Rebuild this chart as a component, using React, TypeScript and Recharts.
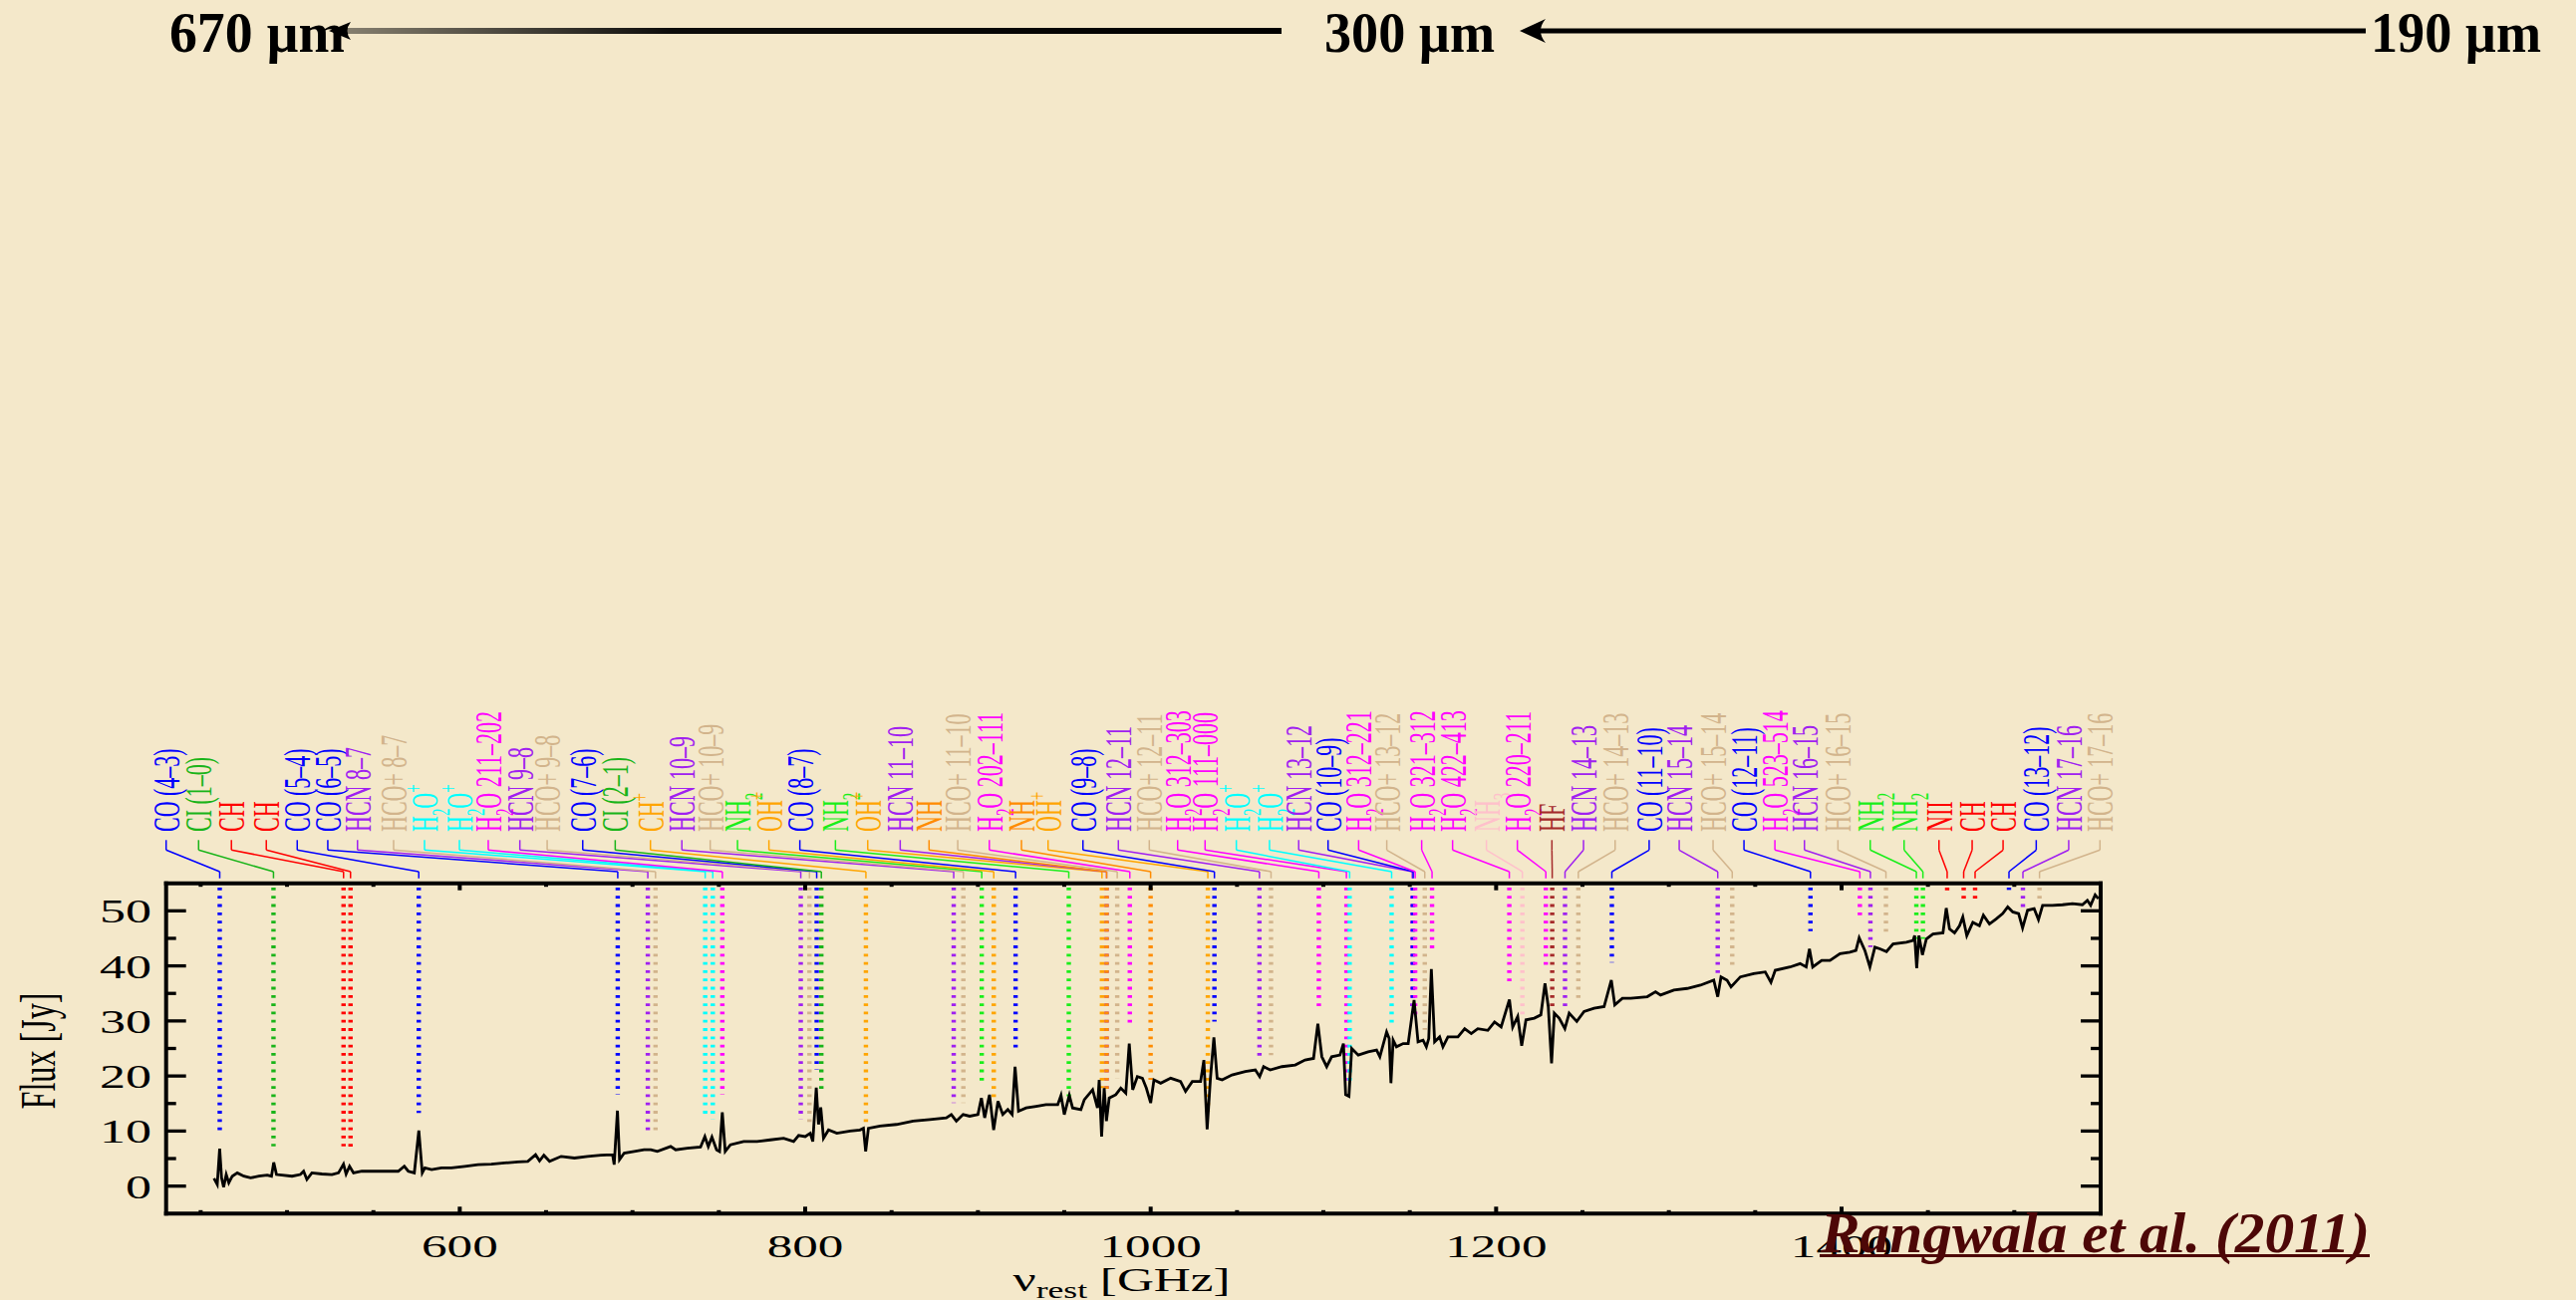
import React from 'react';
import { ComposedChart, Line, XAxis, YAxis, ReferenceLine, ReferenceDot } from 'recharts';

const W = 2585;
const H = 1305;
const BG = '#f4e8ca';
const SERIF = '"Liberation Serif", "Times New Roman", serif';

// plot frame in page pixels
const PLOT = { left: 166.7, top: 886.7, right: 2108, bottom: 1218.3 };
const PLOT_W = PLOT.right - PLOT.left;
const PLOT_H = PLOT.bottom - PLOT.top;

const X_DOMAIN: [number, number] = [430, 1550];
const Y_DOMAIN: [number, number] = [-5, 55];
const X_TICKS = [450, 500, 550, 600, 650, 700, 750, 800, 850, 900, 950, 1000, 1050, 1100, 1150, 1200, 1250, 1300, 1350, 1400, 1450, 1500];
const X_MAJOR = [600, 800, 1000, 1200, 1400];
const Y_TICKS = [0, 5, 10, 15, 20, 25, 30, 35, 40, 45, 50];
const Y_MAJOR = [0, 10, 20, 30, 40, 50];

// rest frequency (GHz) and flux density (Jy) of the spectrum
const FREQ_GHZ = [
  457.7, 459.6, 461.0, 462.1, 463.3, 464.8, 466.3, 468.3, 471.2, 475.0, 478.9, 483.7, 488.5, 491.0, 492.3, 493.9,
  497.1, 502.9, 507.7, 509.6, 511.5, 514.4, 520.2, 526.0, 529.8, 532.7, 534.2, 536.2, 538.5, 543.3, 551.0, 558.7,
  564.4, 567.9, 570.2, 573.7, 576.3, 578.3, 579.8, 583.7, 589.4, 595.2, 602.9, 610.6, 618.3, 626.0, 633.7, 639.4,
  643.9, 646.2, 648.7, 652.0, 658.7, 666.4, 674.0, 681.7, 688.5, 689.4, 691.3, 692.5, 695.2, 701.0, 706.7, 710.6,
  714.4, 722.1, 725.0, 731.7, 739.4, 741.9, 743.9, 746.0, 748.7, 750.4, 752.0, 753.7, 756.7, 764.4, 772.1, 779.8,
  787.5, 793.3, 796.2, 800.0, 802.9, 804.4, 806.4, 807.7, 809.0, 810.6, 813.5, 818.3, 826.0, 831.7, 833.7, 835.0,
  836.6, 843.3, 852.9, 862.5, 872.1, 881.7, 884.6, 887.5, 891.4, 895.2, 900.0, 902.0, 903.9, 906.7, 909.1, 911.6,
  914.4, 917.3, 919.8, 921.5, 923.5, 927.9, 933.7, 939.4, 946.2, 948.1, 950.0, 952.9, 954.8, 959.6, 961.6, 966.4,
  969.2, 970.2, 971.6, 973.1, 974.4, 976.0, 979.8, 982.7, 985.6, 987.6, 989.6, 992.3, 995.2, 997.5, 1000.0, 1001.9,
  1005.8, 1011.6, 1017.3, 1020.2, 1024.1, 1028.9, 1030.8, 1032.7, 1034.6, 1036.6, 1038.5, 1041.4, 1047.1, 1054.8, 1060.6, 1063.1,
  1065.4, 1069.2, 1076.0, 1083.7, 1089.4, 1094.3, 1096.8, 1099.1, 1101.9, 1104.8, 1109.6, 1111.6, 1112.9, 1114.8, 1116.4, 1120.2,
  1125.9, 1130.8, 1132.7, 1136.6, 1138.1, 1139.1, 1140.4, 1142.3, 1146.2, 1149.1, 1152.5, 1154.8, 1157.7, 1159.6, 1161.0, 1162.5,
  1164.4, 1167.3, 1169.2, 1172.1, 1177.9, 1181.8, 1185.6, 1189.4, 1195.2, 1199.1, 1202.9, 1207.7, 1209.6, 1212.5, 1214.8, 1217.3,
  1222.1, 1225.9, 1228.3, 1230.2, 1232.1, 1233.7, 1236.5, 1239.8, 1242.3, 1246.7, 1250.9, 1256.7, 1262.5, 1266.7, 1268.7, 1273.1,
  1277.9, 1287.5, 1292.3, 1295.2, 1302.9, 1310.6, 1318.3, 1326.0, 1328.3, 1330.2, 1333.7, 1336.0, 1341.4, 1349.1, 1355.8, 1359.1,
  1361.6, 1370.2, 1376.0, 1379.5, 1381.4, 1383.3, 1388.5, 1393.3, 1399.1, 1404.8, 1408.3, 1410.2, 1413.5, 1416.4, 1419.3, 1422.2,
  1426.0, 1429.8, 1437.5, 1441.4, 1442.3, 1443.5, 1444.8, 1446.8, 1449.1, 1452.9, 1458.7, 1460.6, 1462.5, 1465.4, 1468.3, 1470.2,
  1472.5, 1476.0, 1479.8, 1482.1, 1485.6, 1489.4, 1493.3, 1496.2, 1499.1, 1502.5, 1504.8, 1507.7, 1511.5, 1514.0, 1516.4, 1522.1,
  1527.9, 1533.7, 1539.4, 1542.3, 1544.2, 1546.8, 1548.7,
];
const FLUX_JY = [
  1.4, 0.3, 6.8, 1.5, -0.2, 2.1, 0.6, 1.8, 2.4, 1.8, 1.5, 1.8, 2.0, 1.8, 4.3, 2.1,
  2.0, 1.8, 2.1, 2.7, 1.2, 2.4, 2.2, 2.1, 2.4, 4.0, 2.2, 3.6, 2.4, 2.7, 2.7, 2.7,
  2.7, 3.6, 2.7, 2.4, 10.1, 2.4, 3.3, 3.0, 3.3, 3.3, 3.6, 3.9, 4.0, 4.2, 4.4, 4.5,
  5.7, 4.6, 5.6, 4.5, 5.4, 5.1, 5.4, 5.6, 5.7, 3.9, 13.7, 4.8, 6.0, 6.3, 6.6, 6.6,
  6.3, 7.2, 6.6, 6.9, 7.1, 9.0, 7.2, 8.9, 6.6, 6.3, 13.4, 6.3, 7.5, 8.1, 8.1, 8.4,
  8.7, 8.1, 9.2, 9.0, 9.6, 8.1, 17.9, 11.2, 14.3, 8.7, 10.2, 9.6, 10.0, 10.2, 10.5, 6.3,
  10.5, 10.9, 11.2, 11.8, 12.1, 12.4, 13.0, 11.8, 13.0, 12.7, 13.0, 16.0, 12.4, 16.6, 10.2, 15.4,
  13.0, 13.9, 13.0, 21.7, 13.6, 14.2, 14.5, 14.8, 14.8, 16.5, 13.0, 16.5, 14.2, 13.9, 15.7, 17.5,
  14.2, 19.3, 9.0, 17.8, 11.8, 16.0, 16.6, 17.8, 16.9, 25.9, 17.5, 19.9, 19.6, 17.8, 15.1, 19.3,
  18.7, 19.6, 19.0, 17.2, 19.0, 19.0, 22.9, 10.3, 19.6, 27.0, 19.6, 19.3, 20.2, 20.8, 21.1, 19.9,
  21.7, 21.1, 21.7, 22.0, 22.9, 23.2, 29.5, 23.5, 21.7, 23.5, 23.8, 25.9, 16.6, 16.3, 25.0, 23.8,
  24.4, 24.7, 23.5, 28.0, 26.8, 18.7, 26.5, 25.3, 25.9, 25.9, 33.8, 26.2, 26.5, 25.3, 26.8, 39.4,
  26.2, 27.1, 25.3, 27.1, 27.1, 28.6, 27.7, 28.6, 28.3, 29.8, 28.9, 33.9, 28.9, 30.8, 25.5, 30.2,
  30.5, 31.1, 36.8, 32.6, 22.3, 31.4, 30.5, 28.6, 31.4, 29.9, 31.7, 32.3, 32.6, 37.4, 32.9, 34.1,
  34.1, 34.4, 35.3, 34.7, 35.6, 35.9, 36.5, 37.4, 34.4, 38.0, 37.4, 36.2, 38.0, 38.6, 38.9, 37.0,
  39.2, 39.8, 40.4, 39.8, 43.1, 39.8, 41.0, 41.0, 42.2, 42.5, 42.8, 45.1, 42.8, 39.8, 43.4, 43.1,
  42.6, 44.0, 44.3, 44.6, 45.5, 39.6, 45.5, 42.0, 44.9, 45.8, 46.0, 50.5, 46.7, 46.0, 47.3, 48.9,
  45.5, 47.9, 47.3, 49.2, 47.6, 48.5, 49.5, 50.7, 49.8, 49.5, 46.9, 50.1, 50.4, 48.4, 51.0, 51.0,
  51.1, 51.3, 51.1, 51.9, 51.0, 52.9, 52.2,
];
const spectrum = FREQ_GHZ.map((ghz, i) => ({ ghz, flux: FLUX_JY[i] }));

// identified lines: label, species, rest frequency (GHz), lower end of the marker (Jy)
// _x = subscript, ^x = superscript
const LINE_NAMES = [
  'CO (4–3)', 'CI (1–0)', 'CH', 'CH', 'CO (5–4)', 'CO (6–5)', 'HCN 8–7', 'HCO+ 8–7', 'H_2O^+', 'H_2O^+',
  'H_2O 211–202', 'HCN 9–8', 'HCO+ 9–8', 'CO (7–6)', 'CI (2–1)', 'CH^+', 'HCN 10–9', 'HCO+ 10–9', 'NH_2', 'OH^+',
  'CO (8–7)', 'NH_2', 'OH^+', 'HCN 11–10', 'NH', 'HCO+ 11–10', 'H_2O 202–111', 'NH', 'OH^+', 'CO (9–8)',
  'HCN 12–11', 'HCO+ 12–11', 'H_2O 312–303', 'H_2O 111–000', 'H_2O^+', 'H_2O^+', 'HCN 13–12', 'CO (10–9)', 'H_2O 312–221', 'HCO+ 13–12',
  'H_2O 321–312', 'H_2O 422–413', 'NH_3', 'H_2O 220–211', 'HF', 'HCN 14–13', 'HCO+ 14–13', 'CO (11–10)', 'HCN 15–14', 'HCO+ 15–14',
  'CO (12–11)', 'H_2O 523–514', 'HCN 16–15', 'HCO+ 16–15', 'NH_2', 'NH_2', 'NII', 'CH', 'CH', 'CO (13–12)',
  'HCN 17–16', 'HCO+ 17–16',
];
const LINE_SPECIES = [
  'CO', 'CI', 'CH', 'CH', 'CO', 'CO', 'HCN', 'HCOp', 'H2Op', 'H2Op',
  'H2O', 'HCN', 'HCOp', 'CO', 'CI', 'CHp', 'HCN', 'HCOp', 'NH2', 'OHp',
  'CO', 'NH2', 'OHp', 'HCN', 'NH', 'HCOp', 'H2O', 'NH', 'OHp', 'CO',
  'HCN', 'HCOp', 'H2O', 'H2O', 'H2Op', 'H2Op', 'HCN', 'CO', 'H2O', 'HCOp',
  'H2O', 'H2O', 'NH3', 'H2O', 'HF', 'HCN', 'HCOp', 'CO', 'HCN', 'HCOp',
  'CO', 'H2O', 'HCN', 'HCOp', 'NH2', 'NH2', 'NII', 'CH', 'CH', 'CO',
  'HCN', 'HCOp',
];
const LINE_FREQ = [
  461.04, 492.16, 532.72, 536.76, 576.27, 691.47, 708.88, 713.34, 742.1, 746.5,
  752.03, 797.43, 802.46, 806.65, 809.34, 835.14, 885.97, 891.56, 902.2, 909.16,
  921.8, 952.6, 971.8, 974.49, 974.5, 980.64, 987.93, 999.97, 1033.1, 1036.91,
  1062.98, 1069.69, 1097.37, 1113.34, 1115.2, 1139.5, 1151.45, 1151.99, 1153.13, 1158.7,
  1162.91, 1207.64, 1215.2, 1228.79, 1232.48, 1239.89, 1247.6, 1267.01, 1328.3, 1336.7,
  1381.99, 1410.6, 1416.7, 1425.7, 1443.3, 1447.1, 1461.13, 1470.7, 1477.3, 1496.92,
  1505.0, 1514.6,
];
const LINE_END_JY = [
  10.0, 7.2, 7.2, 6.6, 13.3, 16.6, 9.9, 9.4, 12.4, 12.1,
  16.6, 12.1, 11.5, 21.1, 17.2, 11.2, 15.1, 15.1, 19.0, 15.4,
  24.7, 16.3, 17.8, 17.5, 17.5, 19.6, 28.9, 19.3, 13.6, 29.9,
  22.9, 23.8, 32.6, 19.0, 19.0, 29.3, 31.7, 33.5, 31.0, 28.4,
  42.2, 36.8, 31.1, 40.1, 31.7, 32.0, 33.2, 40.6, 38.0, 39.2,
  46.3, 48.3, 43.4, 45.8, 44.9, 44.9, 53.1, 52.1, 51.6, 53.8,
  50.4, 51.9,
];
// where each label sits along the frequency axis (spread out so the labels don't collide)
const LABEL_SLOTS = [
  430.0, 448.8, 467.8, 488.0, 505.9, 523.6, 540.8, 561.7, 579.6, 599.8,
  616.5, 634.8, 650.6, 671.2, 690.0, 710.4, 728.6, 745.0, 760.8, 779.0,
  796.9, 817.5, 836.2, 855.0, 871.7, 888.3, 906.6, 925.2, 940.6, 960.8,
  981.3, 999.2, 1015.6, 1031.5, 1049.6, 1068.8, 1085.7, 1102.7, 1120.4, 1136.7,
  1156.9, 1174.8, 1194.4, 1212.3, 1232.3, 1250.6, 1268.9, 1288.6, 1306.0, 1325.6,
  1343.5, 1361.4, 1378.5, 1397.9, 1416.6, 1436.2, 1456.4, 1475.6, 1493.5, 1512.7,
  1531.5, 1549.6,
];

const SPECIES_COLOR: Record<string, string> = {
  CO: '#0000ff',
  CI: '#19b419',
  CH: '#ff0000',
  NII: '#ff0000',
  HCN: '#a020f0',
  HCOp: '#d2b48c',
  H2Op: '#00ffff',
  H2O: '#ff00ff',
  CHp: '#ffa500',
  OHp: '#ffa500',
  NH: '#ff8c00',
  NH2: '#1aee1a',
  NH3: '#ffc0cb',
  HF: '#a52a2a',
};

// pixels above the top frame -> value on the flux scale
const above = (px: number) => Y_DOMAIN[1] + (px * (Y_DOMAIN[1] - Y_DOMAIN[0])) / PLOT_H;
const LABEL_BASE = above(51.7);
const LEAD_TOP = above(43.4);
const LEAD_BEND1 = above(33.4);
const LEAD_BEND2 = above(11.7);
const LEAD_FOOT = above(5);

type Seg = { text: string; kind: 'norm' | 'sub' | 'sup' };
function parseName(name: string): Seg[] {
  const out: Seg[] = [];
  let buf = '';
  for (let i = 0; i < name.length; i++) {
    const c = name[i];
    if ((c === '_' || c === '^') && i + 1 < name.length) {
      if (buf) out.push({ text: buf, kind: 'norm' });
      buf = '';
      out.push({ text: name[i + 1], kind: c === '_' ? 'sub' : 'sup' });
      i++;
    } else {
      buf += c;
    }
  }
  if (buf) out.push({ text: buf, kind: 'norm' });
  return out;
}

function LineLabel({ cx, cy, name, color }: { cx: number; cy: number; name: string; color: string }) {
  const fs = 22;
  let cur = 0;
  return (
    <text
      transform={`translate(${cx + 13},${cy}) scale(1.75,1) rotate(-90)`}
      fontFamily={SERIF}
      fontSize={fs}
      fill={color}
    >
      {parseName(name).map((s, i) => {
        const target = s.kind === 'sub' ? fs * 0.3 : s.kind === 'sup' ? -fs * 0.42 : 0;
        const dy = target - cur;
        cur = target;
        return (
          <tspan key={i} dy={dy} fontSize={s.kind === 'norm' ? fs : fs * 0.68}>
            {s.text}
          </tspan>
        );
      })}
    </text>
  );
}

const XTick = (props: any) => {
  const { x, y, payload } = props;
  const major = X_MAJOR.includes(payload.value);
  const len = major ? 7 : 3.5;
  return (
    <g>
      <line x1={x} x2={x} y1={y} y2={y - len} stroke="#000" strokeWidth={4} />
      <line x1={x} x2={x} y1={y - PLOT_H} y2={y - PLOT_H + len} stroke="#000" strokeWidth={4} />
      {major && (
        <text
          transform={`translate(${x},${y + 43.4}) scale(1.6,1)`}
          textAnchor="middle"
          fontFamily={SERIF}
          fontSize={32}
          fill="#000"
        >
          {payload.value}
        </text>
      )}
    </g>
  );
};

const YTick = (props: any) => {
  const { x, y, payload } = props;
  const major = Y_MAJOR.includes(payload.value);
  const len = major ? 20 : 10;
  return (
    <g>
      <line x1={x} x2={x + len} y1={y} y2={y} stroke="#000" strokeWidth={3.3} />
      <line x1={x + PLOT_W} x2={x + PLOT_W - len} y1={y} y2={y} stroke="#000" strokeWidth={3.3} />
      {major && (
        <text
          transform={`translate(${x - 14.7},${y + 12}) scale(1.53,1)`}
          textAnchor="end"
          fontFamily={SERIF}
          fontSize={34}
          fill="#000"
        >
          {payload.value}
        </text>
      )}
    </g>
  );
};

export default function App() {
  const xAxisH = 40;
  const yAxisW = 60;
  return (
    <div style={{ position: 'absolute', left: 0, top: 0, width: W, height: H, background: BG, overflow: 'hidden' }}>
      <ComposedChart
        width={W}
        height={H}
        data={spectrum}
        margin={{
          top: PLOT.top,
          right: W - PLOT.right,
          bottom: H - PLOT.bottom - xAxisH,
          left: PLOT.left - yAxisW,
        }}
      >
        <XAxis
          dataKey="ghz"
          type="number"
          domain={X_DOMAIN}
          ticks={X_TICKS}
          interval={0}
          allowDataOverflow
          height={xAxisH}
          tickSize={0}
          tickMargin={0}
          tickLine={false}
          axisLine={{ stroke: '#000', strokeWidth: 4, strokeLinecap: 'square' }}
          tick={XTick}
        />
        <YAxis
          type="number"
          domain={Y_DOMAIN}
          ticks={Y_TICKS}
          interval={0}
          allowDataOverflow
          width={yAxisW}
          tickSize={0}
          tickMargin={0}
          tickLine={false}
          axisLine={{ stroke: '#000', strokeWidth: 4, strokeLinecap: 'square' }}
          tick={YTick}
        />

        {/* dotted line markers inside the frame */}
        {LINE_FREQ.map((f, i) => (
          <ReferenceLine
            key={`mark-${i}`}
            segment={[{ x: f, y: Y_DOMAIN[1] }, { x: f, y: LINE_END_JY[i] }]}
            stroke={SPECIES_COLOR[LINE_SPECIES[i]]}
            strokeWidth={4.4}
            strokeDasharray="2.8 5.5"
            strokeDashoffset={4}
            ifOverflow="visible"
          />
        ))}

        {/* leader lines from each label down to its line */}
        {LINE_FREQ.flatMap((f, i) => {
          const c = SPECIES_COLOR[LINE_SPECIES[i]];
          const s = LABEL_SLOTS[i];
          return [
            <ReferenceLine key={`la-${i}`} segment={[{ x: s, y: LEAD_TOP }, { x: s, y: LEAD_BEND1 }]} stroke={c} strokeWidth={1.5} ifOverflow="visible" />,
            <ReferenceLine key={`lb-${i}`} segment={[{ x: s, y: LEAD_BEND1 }, { x: f, y: LEAD_BEND2 }]} stroke={c} strokeWidth={1.5} ifOverflow="visible" />,
            <ReferenceLine key={`lc-${i}`} segment={[{ x: f, y: LEAD_BEND2 }, { x: f, y: LEAD_FOOT }]} stroke={c} strokeWidth={1.5} ifOverflow="visible" />,
          ];
        })}

        {LINE_NAMES.map((name, i) => (
          <ReferenceDot
            key={`lab-${i}`}
            x={LABEL_SLOTS[i]}
            y={LABEL_BASE}
            r={1}
            ifOverflow="visible"
            shape={(p: any) => (
              <LineLabel cx={p.cx} cy={p.cy} name={name} color={SPECIES_COLOR[LINE_SPECIES[i]]} />
            )}
          />
        ))}

        <Line
          dataKey="flux"
          type="linear"
          stroke="#000"
          strokeWidth={2.8}
          dot={false}
          activeDot={false}
          isAnimationActive={false}
        />

        {/* top and right sides of the frame */}
        <ReferenceLine y={Y_DOMAIN[1]} stroke="#000" strokeWidth={4} strokeLinecap="square" ifOverflow="visible" />
        <ReferenceLine x={X_DOMAIN[1]} stroke="#000" strokeWidth={4} strokeLinecap="square" ifOverflow="visible" />
      </ComposedChart>

      <svg width={W} height={H} style={{ position: 'absolute', left: 0, top: 0, pointerEvents: 'none' }}>
        <defs>
          <linearGradient id="arrowFade" gradientUnits="userSpaceOnUse" x1={345} y1={0} x2={1286} y2={0}>
            <stop offset="0" stopColor="#000" stopOpacity={0.45} />
            <stop offset="0.35" stopColor="#000" stopOpacity={0.95} />
            <stop offset="1" stopColor="#000" stopOpacity={1} />
          </linearGradient>
        </defs>

        {/* wavelength scale across the top */}
        <g fontFamily={SERIF} fontWeight="bold" fontSize={56} fill="#000">
          <text x={170} y={52} textLength={176} lengthAdjust="spacingAndGlyphs">670 µm</text>
          <text x={1329} y={52} textLength={171} lengthAdjust="spacingAndGlyphs">300 µm</text>
          <text x={2379} y={52} textLength={171} lengthAdjust="spacingAndGlyphs">190 µm</text>
        </g>
        <line x1={345} y1={31} x2={1286} y2={31} stroke="url(#arrowFade)" strokeWidth={6} />
        <path d="M330 31 L352 22 Q345 31 352 40 Z" fill="#000" />
        <line x1={1540} y1={31} x2={2374} y2={31} stroke="#000" strokeWidth={5} />
        <path d="M1525 31 L1551 19 Q1541 31 1551 43 Z" fill="#000" />

        {/* axis titles */}
        <text
          transform="translate(55,1055) scale(1.6,1) rotate(-90)"
          textAnchor="middle"
          fontFamily={SERIF}
          fontSize={32}
          fill="#000"
          textLength={117}
          lengthAdjust="spacingAndGlyphs"
        >
          Flux [Jy]
        </text>
        <text transform="translate(1016.5,1296) scale(1.55,1)" fontFamily={SERIF} fontSize={33} fill="#000">
          <tspan>ν</tspan>
          <tspan dy={7} fontSize={23}>rest</tspan>
          <tspan dy={-7}> [GHz]</tspan>
        </text>

        {/* reference */}
        <text
          x={1827}
          y={1257}
          fontFamily={SERIF}
          fontStyle="italic"
          fontWeight="bold"
          fontSize={58}
          fill="#4d0707"
          textLength={551}
          lengthAdjust="spacingAndGlyphs"
        >
          Rangwala et al. (2011)
        </text>
        <line x1={1826} y1={1260.5} x2={2378} y2={1260.5} stroke="#4d0707" strokeWidth={3} />
      </svg>
    </div>
  );
}
